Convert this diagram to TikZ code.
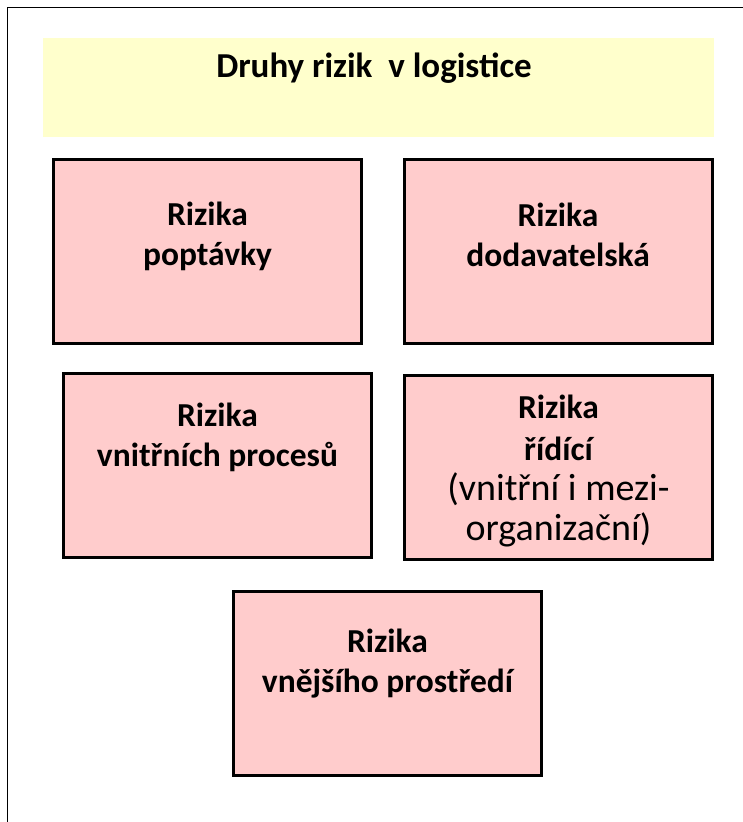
\documentclass[tikz,border=0pt]{standalone}
\usepackage{fontspec}
\setmainfont{Carlito}
\usetikzlibrary{positioning}
\definecolor{titleyellow}{RGB}{255,255,204}
\definecolor{riskpink}{RGB}{255,204,204}
\tikzset{
    % Thick black outline round every kind of risk
    risk box/.style={draw, line width=3pt, fill=riskpink,
        minimum width=308pt, minimum height=184pt, inner sep=0},
%
    % Bold lines of text inside the boxes (base = last line)
    risk text/.style={align=center, inner sep=0, anchor=base,
        font=\fontsize{33.5}{40}\selectfont\bfseries}}
\newcommand{\plainline}[1]{{\fontsize{38}{40}\selectfont\mdseries #1}}

\begin{document}
\begin{tikzpicture}[x=1pt, y=-1pt,
    title fill/.style={fill=titleyellow, minimum width=671pt,
        minimum height=99pt, inner sep=0},
    title text/.style={inner sep=0, font=\fontsize{35}{40}\selectfont\bfseries}]
\useasboundingbox (0,0) rectangle (742,822);

% Frame round the whole slide, cut at the right and bottom
\draw[line width=1.5pt] (7.5,900) -- (7.5,7.5) -- (900,7.5);

% Heading band
\node[title fill] (title) at (378.5,87.5) {};
\node[title text, anchor=base] (title text) at (374,77)
    {Druhy rizik\ \ v logistice};

% First row: demand and supply
\node[risk box] (poptavky) at (207.5,251.5) {};
\node[risk text] (poptavky text)
    at ([yshift=-107pt]poptavky.north) {Rizika\\poptávky};
\node[risk box] (dodavatel) at (558,251.5) {};
\node[risk text] (dodavatel text)
    at ([yshift=-108pt]dodavatel.north) {Rizika\\dodavatelská};

% Second row: internal processes and control
\node[risk box] (procesy) at (217.5,465.5) {};
\node[risk text] (procesy text)
    at ([yshift=-94pt]procesy.north) {Rizika\\vnitřních procesů};
\node[risk box] (ridici) at (558.5,467) {};
\node[risk text] (ridici text)
    at ([yshift=-167pt]ridici.north)
    {Rizika\\[2pt]řídící\\\plainline{(vnitřní i mezi-}\\%
     \plainline{organizační)}};

% Last row: environment
\node[risk box] (prostredi) at (387.5,683.5) {};
\node[risk text] (prostredi text)
    at ([yshift=-102pt]prostredi.north) {Rizika\\vnějšího prostředí};
\end{tikzpicture}
\end{document}
